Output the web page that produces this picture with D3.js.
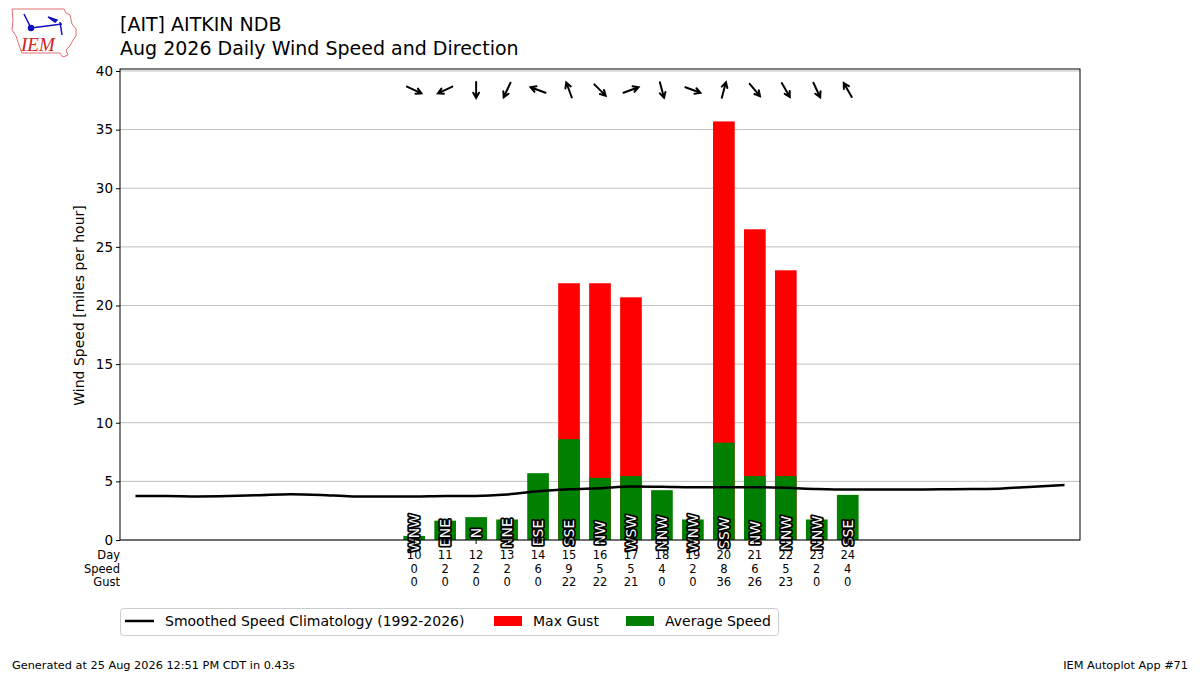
<!DOCTYPE html>
<html>
<head>
  <meta charset="utf-8" />
  <title>AIT daily wind</title>
  <style>
    body { margin: 0; background: #fff; }
    svg { font-family: "DejaVu Sans", sans-serif; }
  </style>
</head>
<body>
  <svg id="svg" width="1200" height="675"></svg>
  <script src="https://d3js.org/d3.v7.min.js"></script>
  <script>
    // observed days
    const days = [10, 11, 12, 13, 14, 15, 16, 17, 18, 19, 20, 21, 22, 23, 24]
    const avgSpeed = [0.35, 1.65, 1.95, 1.75, 5.7, 8.6, 5.3, 5.45, 4.25, 1.75, 8.3, 5.45, 5.45, 1.75, 3.85]
    const maxGust = [0, 0, 0, 0, 0, 21.9, 21.9, 20.7, 0, 0, 35.7, 26.5, 23.0, 0, 0]
    const dirText = ['WNW', 'ENE', 'N', 'NNE', 'ESE', 'SSE', 'NW', 'WSW', 'NNW', 'WNW', 'SSW', 'NW', 'NNW', 'NNW', 'SSE']
    const dirDeg = [295, 65, 0, 25, 110, 160, 315, 250, 345, 290, 195, 320, 330, 335, 150]
    const speedRow = [0, 2, 2, 2, 6, 9, 5, 5, 4, 2, 8, 6, 5, 2, 4]
    const gustRow = [0, 0, 0, 0, 0, 22, 22, 21, 0, 0, 36, 26, 23, 0, 0]

    // climatology, days 1..31
    const climDays = d3.range(1, 32)
    const climSpeed = [3.75, 3.75, 3.72, 3.75, 3.82, 3.9, 3.84, 3.72, 3.72, 3.72, 3.76, 3.76, 3.88, 4.15, 4.32,
      4.42, 4.56, 4.54, 4.5, 4.5, 4.5, 4.45, 4.35, 4.3, 4.3, 4.3, 4.32, 4.35, 4.4, 4.55, 4.7]

    const yTicks = [0, 5, 10, 15, 20, 25, 30, 35, 40]

    const margin = { left: 120, right: 120, top: 69, bottom: 135 }
    const W = 1200, H = 675

    const svg = d3.select('#svg')

    const x = d3.scaleLinear().domain([0.5, 31.5]).range([margin.left, W - margin.right])
    const y = d3.scaleLinear().domain([0, 40.17]).range([H - margin.bottom, margin.top])

    // grid
    svg.append('g')
      .selectAll('line').data(yTicks).join('line')
      .attr('x1', x(0.5)).attr('x2', x(31.5))
      .attr('y1', d => y(d)).attr('y2', d => y(d))
      .attr('stroke', '#b0b0b0').attr('stroke-width', 0.8)

    const bw = x(0.7) - x(0)

    // gust bars
    svg.append('g')
      .selectAll('rect').data(days).join('rect')
      .attr('x', d => x(d) - bw / 2)
      .attr('width', bw)
      .attr('y', (d, i) => y(maxGust[i]))
      .attr('height', (d, i) => y(0) - y(maxGust[i]))
      .attr('fill', '#ff0000')

    // average speed bars
    svg.append('g')
      .selectAll('rect').data(days).join('rect')
      .attr('x', d => x(d) - bw / 2)
      .attr('width', bw)
      .attr('y', (d, i) => y(avgSpeed[i]))
      .attr('height', (d, i) => y(0) - y(avgSpeed[i]))
      .attr('fill', '#008000')

    // climatology line
    const line = d3.line().x(d => x(d[0])).y(d => y(d[1])).curve(d3.curveMonotoneX)
    svg.append('path')
      .attr('d', line(climDays.map((d, i) => [d, climSpeed[i]])))
      .attr('fill', 'none').attr('stroke', '#000').attr('stroke-width', 2.5)

    // direction labels inside bars: black outline under white text
    const labelPos = d => `translate(${x(d) + 5},${y(0) - 7}) rotate(-90)`
    svg.append('g').selectAll('text').data(days).join('text')
      .attr('transform', labelPos)
      .attr('text-anchor', 'middle').attr('font-size', 14)
      .attr('fill', 'none').attr('stroke', '#000').attr('stroke-width', 3.5).attr('stroke-linejoin', 'round')
      .text((d, i) => dirText[i])
    svg.append('g').selectAll('text').data(days).join('text')
      .attr('transform', labelPos)
      .attr('text-anchor', 'middle').attr('font-size', 14)
      .attr('fill', '#fff')
      .text((d, i) => dirText[i])

    // frame
    svg.append('rect')
      .attr('x', x(0.5)).attr('y', y(40.17))
      .attr('width', x(31.5) - x(0.5)).attr('height', y(0) - y(40.17))
      .attr('fill', 'none').attr('stroke', '#000').attr('stroke-width', 1)

    // y axis
    const yAxis = d3.axisLeft(y).tickValues(yTicks).tickSize(4).tickPadding(3)
    const ya = svg.append('g').attr('transform', `translate(${x(0.5)},0)`).call(yAxis)
    ya.select('.domain').remove()
    ya.selectAll('text').attr('font-size', 13.5).attr('fill', '#000').attr('font-family', 'DejaVu Sans')
    ya.selectAll('line').attr('stroke', '#000')

    svg.append('text')
      .attr('transform', `translate(84,${(y(0) + y(40)) / 2}) rotate(-90)`)
      .attr('text-anchor', 'middle').attr('font-size', 14)
      .text('Wind Speed [miles per hour]')

    // x ticks at observed days
    svg.append('g').selectAll('line').data(days).join('line')
      .attr('x1', d => x(d)).attr('x2', d => x(d))
      .attr('y1', y(0)).attr('y2', y(0) + 4)
      .attr('stroke', '#000')

    // table rows under axis
    const rows = [['Day', days], ['Speed', speedRow], ['Gust', gustRow]]
    rows.forEach((r, k) => {
      const ry = 559 + k * 13.5
      svg.append('text').attr('x', 120).attr('y', ry).attr('text-anchor', 'end')
        .attr('font-size', 11.5).text(r[0])
      svg.append('g').selectAll('text').data(days).join('text')
        .attr('x', d => x(d)).attr('y', ry)
        .attr('text-anchor', 'middle').attr('font-size', 11.5)
        .text((d, i) => r[1][i])
    })

    // direction arrows near top
    const ag = svg.append('g').attr('stroke', '#000').attr('stroke-width', 2).attr('fill', 'none')
      .attr('stroke-linecap', 'round')
    days.forEach((d, i) => {
      const b = (dirDeg[i] + 180) * Math.PI / 180
      const ux = Math.sin(b), uy = -Math.cos(b)
      const cx = x(d), cy = 90, L = 8
      const hx = cx + ux * L, hy = cy + uy * L
      const tx = cx - ux * L, ty = cy - uy * L
      const hl = 6, ha = 0.5
      const a = Math.atan2(uy, ux)
      const p1 = [hx - hl * Math.cos(a - ha), hy - hl * Math.sin(a - ha)]
      const p2 = [hx - hl * Math.cos(a + ha), hy - hl * Math.sin(a + ha)]
      ag.append('path').attr('d', `M${tx},${ty}L${hx},${hy}M${p1[0]},${p1[1]}L${hx},${hy}L${p2[0]},${p2[1]}`)
    })

    // titles
    svg.append('text').attr('x', 120).attr('y', 31).attr('font-size', 19).text('[AIT] AITKIN NDB')
    svg.append('text').attr('x', 120).attr('y', 55).attr('font-size', 19).text('Aug 2026 Daily Wind Speed and Direction')

    // legend
    const lg = svg.append('g')
    lg.append('rect').attr('x', 120.5).attr('y', 608.5).attr('width', 658).attr('height', 27).attr('rx', 3)
      .attr('fill', '#fff').attr('stroke', '#ccc')
    lg.append('line').attr('x1', 125).attr('x2', 154).attr('y1', 621).attr('y2', 621)
      .attr('stroke', '#000').attr('stroke-width', 2.5)
    lg.append('text').attr('x', 165).attr('y', 626).attr('font-size', 14).text('Smoothed Speed Climatology (1992-2026)')
    lg.append('rect').attr('x', 494).attr('y', 616).attr('width', 28).attr('height', 10).attr('fill', '#ff0000')
    lg.append('text').attr('x', 533).attr('y', 626).attr('font-size', 14).text('Max Gust')
    lg.append('rect').attr('x', 626).attr('y', 616).attr('width', 28).attr('height', 10).attr('fill', '#008000')
    lg.append('text').attr('x', 665).attr('y', 626).attr('font-size', 14).text('Average Speed')

    // footer
    svg.append('text').attr('x', 12).attr('y', 669).attr('font-size', 11.3).text('Generated at 25 Aug 2026 12:51 PM CDT in 0.43s')
    svg.append('text').attr('x', 1188).attr('y', 669).attr('text-anchor', 'end').attr('font-size', 11.3).text('IEM Autoplot App #71')

    // logo
    const logo = svg.append('g')
    logo.append('path')
      .attr('d', 'M12,9 L64,9 L66,13 L70,15 L72,24 L76,29 L76,36 L73,40 L70,46 L66,50 L68,55 L63,57 L60,53 L22,53 L19,45 L16,36 L12,30 L13,20 Z')
      .attr('fill', 'none').attr('stroke', '#e07070').attr('stroke-width', 1)
    logo.append('text').attr('x', 21).attr('y', 51).attr('font-family', 'Liberation Serif, serif')
      .attr('font-style', 'italic').attr('font-size', 19).attr('fill', '#d42020').text('IEM')
    const lb = logo.append('g').attr('stroke', '#1010c0').attr('fill', '#1010c0').attr('stroke-width', 1.5)
    lb.append('line').attr('x1', 31).attr('y1', 28).attr('x2', 62).attr('y2', 24)
    lb.append('circle').attr('cx', 31).attr('cy', 28).attr('r', 2.5)
    lb.append('path').attr('d', 'M48,17 L57,20 L55,22 Z')
    lb.append('line').attr('x1', 60).attr('y1', 22).attr('x2', 62).attr('y2', 35)
    lb.append('line').attr('x1', 24).attr('y1', 14).attr('x2', 30).attr('y2', 26)
  </script>
</body>
</html>
